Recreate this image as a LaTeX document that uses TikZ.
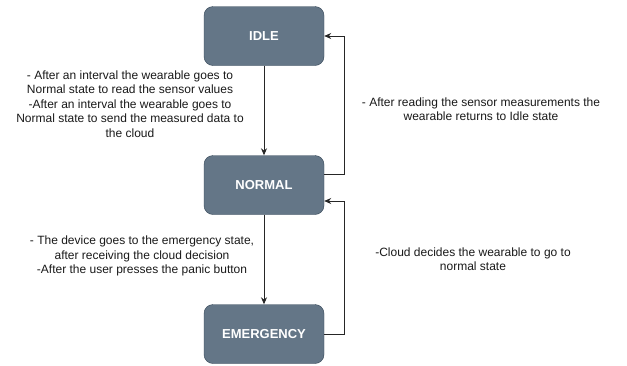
\documentclass[tikz,border=0pt]{standalone}
\usepackage{fontspec}
\setmainfont{Liberation Sans}
\usetikzlibrary{arrows.meta}
\definecolor{boxfill}{HTML}{647687}
\definecolor{boxline}{HTML}{314354}
\begin{document}
\begin{tikzpicture}[x=1pt,y=1pt,
  statebox/.style={draw=boxline,fill=boxfill,rounded corners=9pt,minimum width=120pt,minimum height=59pt,inner sep=0pt,text=white,font=\fontsize{13}{15}\selectfont\bfseries},
  conn/.style={draw=black!85,line width=0.9pt,-{Stealth[length=7pt,width=6pt]}},
  lbl/.style={align=center,inner sep=0pt,text=black!90,font=\fontsize{12}{14.4}\selectfont}]
\useasboundingbox (0,0) rectangle (627,-365);
\node[statebox] (idle) at (264,-36) {IDLE};
\node[statebox] (normal) at (264,-185) {NORMAL};
\node[statebox] (emerg) at (264,-334) {EMERGENCY};
\draw[conn] (idle.south) -- (normal.north);
\draw[conn] (normal.south) -- (emerg.north);
\draw[conn] ([yshift=11pt]normal.east) -| (344,-36) -- (idle.east);
\draw[conn] (emerg.east) -| (344,-201) -- ([yshift=-16pt]normal.east);
\node[lbl] (t1) at (130,-104) {- After an interval the wearable goes to\\Normal state to read the sensor values\\-After an interval the wearable goes to\\Normal state to send the measured data to\\the cloud};
\node[lbl] (t2) at (481,-109) {- After reading the sensor measurements the\\wearable returns to Idle state};
\node[lbl] (t3) at (142,-256) {- The device goes to the emergency state,\\after receiving the cloud decision\\-After the user presses the panic button};
\node[lbl] (t4) at (473,-259) {-Cloud decides the wearable to go to\\normal state};
\end{tikzpicture}
\end{document}
